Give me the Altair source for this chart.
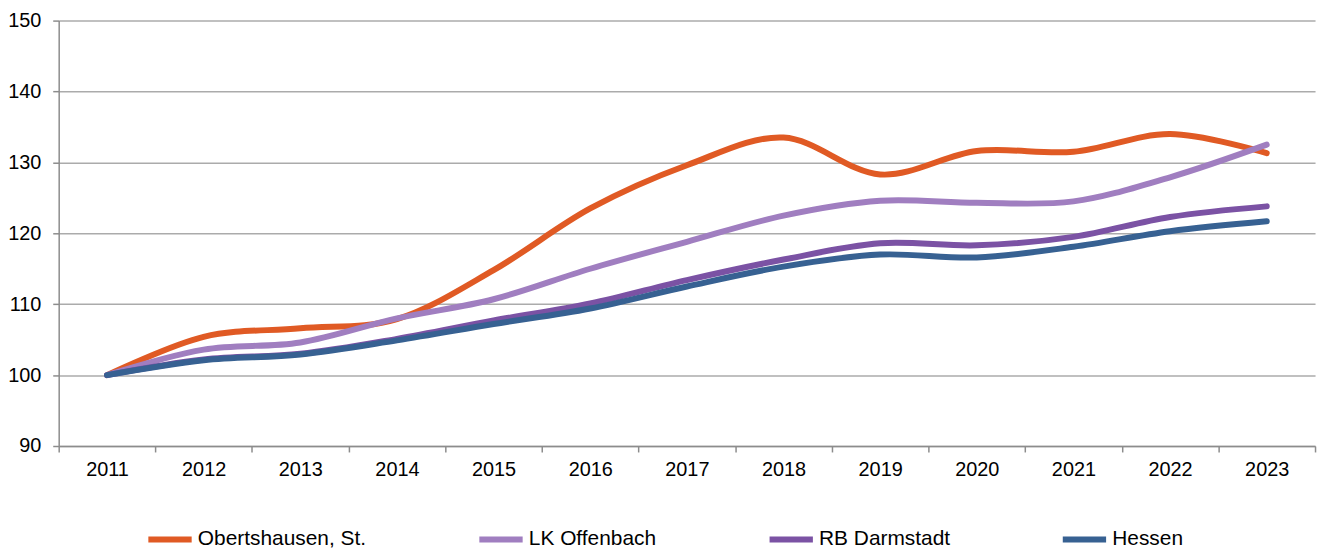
import altair as alt
import pandas as pd

years = [str(y) for y in range(2011, 2024)]
series_names = ["Obertshausen, St.", "LK Offenbach", "RB Darmstadt", "Hessen"]
obertshausen = [100, 105.4, 106.6, 107.9, 114.8, 123.5, 129.6, 133.5, 128.3, 131.6, 131.5, 134.0, 131.3]
lk_offenbach = [100, 103.6, 104.6, 108.0, 110.7, 115.0, 118.8, 122.5, 124.6, 124.3, 124.5, 127.9, 132.5]
rb_darmstadt = [100, 102.2, 103.0, 105.1, 107.7, 110.1, 113.4, 116.3, 118.6, 118.3, 119.5, 122.3, 123.8]
hessen = [100, 102.1, 102.9, 104.9, 107.2, 109.4, 112.5, 115.3, 117.0, 116.6, 118.1, 120.3, 121.7]
colors = ["#E05A24", "#A07EC0", "#7B52A4", "#376192"]

FONT = "Liberation Sans"

values = [obertshausen, lk_offenbach, rb_darmstadt, hessen]
rows = []
for name, vals in zip(series_names, values):
    for yr, v in zip(years, vals):
        rows.append({"Jahr": yr, "Wert": v, "Reihe": name})
df = pd.DataFrame(rows)

color = alt.Color(
    "Reihe:N",
    scale=alt.Scale(domain=series_names, range=colors),
    legend=alt.Legend(
        title=None,
        orient="none",
        direction="horizontal",
        legendX=87,
        legendY=497,
        symbolType="stroke",
        symbolSize=1900,
        symbolStrokeWidth=6,
        labelFontSize=21,
        labelFont=FONT,
        labelColor="#000000",
        labelOffset=3,
        columnPadding=101,
        padding=0,
        labelLimit=400,
    ),
)

base = alt.Chart(df)
layers = []
for name in series_names:
    layers.append(
        base.transform_filter(alt.datum.Reihe == name)
        .mark_line(strokeWidth=6, interpolate="cardinal", strokeCap="round")
        .encode(
            x=alt.X(
                "Jahr:O",
                sort=years,
                bandPosition=0.5,
                scale=alt.Scale(type="band", paddingInner=0, paddingOuter=0),
                axis=alt.Axis(
                    title=None,
                    labelAngle=0,
                    tickBand="extent",
                    grid=False,
                    labelFontSize=20,
                    labelFont=FONT,
                    labelColor="#000000",
                    labelPadding=8,
                    tickSize=6,
                    tickColor="#8c8c8c",
                    tickWidth=1.5,
                    domainColor="#8c8c8c",
                    domainWidth=1.5,
                ),
            ),
            y=alt.Y(
                "Wert:Q",
                scale=alt.Scale(domain=[90, 150], nice=False, zero=False),
                axis=alt.Axis(
                    title=None,
                    values=[90, 100, 110, 120, 130, 140, 150],
                    labelFontSize=20,
                    labelFont=FONT,
                    labelColor="#000000",
                    labelPadding=12,
                    tickSize=6,
                    tickColor="#8c8c8c",
                    tickWidth=1.5,
                    domainColor="#8c8c8c",
                    domainWidth=1.5,
                    gridColor="#ababab",
                    gridWidth=1.5,
                ),
            ),
            color=color,
        )
    )

chart = (
    alt.layer(*layers)
    .properties(
        width=1264,
        height=428,
        padding={"left": 51, "top": 11, "right": 6, "bottom": 110},
        autosize=alt.AutoSizeParams(type="none"),
    )
    .configure_view(stroke=None)
)

chart.save("out.html", embed_options={"renderer": "svg", "actions": False})
